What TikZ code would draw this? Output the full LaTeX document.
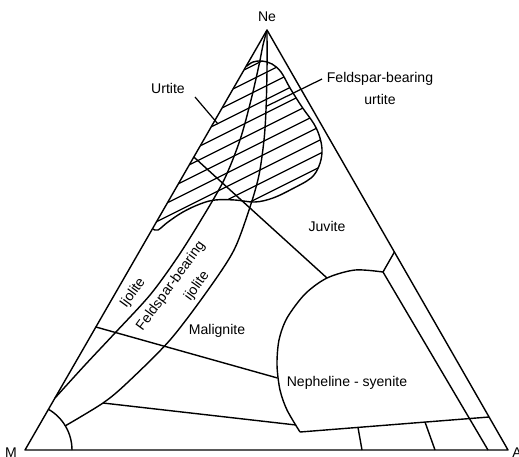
\documentclass[tikz,border=0pt]{standalone}
\usepackage{fontspec}
\setmainfont{Liberation Sans}
\usetikzlibrary{calc}

\begin{document}
\begin{tikzpicture}[x=0.02cm,y=-0.02cm,
  bnd/.style={black,line width=0.8pt,line join=round},
  hatch/.style={black,line width=0.7pt},
  lbl/.style={font=\fontsize{8}{12.5}\selectfont,inner sep=0pt,align=center},
  tip/.style={black,line width=0.7pt}
]
\useasboundingbox (0,0) rectangle (519,456);
\coordinate (M) at (25,450);
\coordinate (Ne) at (267,30);
\coordinate (A) at (508,450);

% feldspar-bearing urtite field
\begin{scope}
\clip plot[smooth,tension=0.6] coordinates {(247,66) (253,62) (262,61) (272,64) (281,72) (290,88) (302,107) (314,124) (320,138) (322,152) (319,166) (311,178) (292,189) (273,198) (255,202) (235,200) (215,200) (200,204) (183,212) (168,222) (158,230) (153,229)} -- cycle;
\foreach \k in {0,...,11}
  \draw[hatch] (140,122+13.5*\k) -- (340,22+13.5*\k);
\end{scope}
\draw[bnd] plot[smooth,tension=0.6] coordinates {(247,66) (253,62) (262,61) (272,64) (281,72) (290,88) (302,107) (314,124) (320,138) (322,152) (319,166) (311,178) (292,189) (273,198) (255,202) (235,200) (215,200) (200,204) (183,212) (168,222) (158,230) (153,229)};

\draw[bnd] (M) -- (Ne) -- (A) -- cycle;

% curves from Ne
\draw[bnd] plot[smooth] coordinates {(Ne) (263,45) (259,65) (251,100) (240,140) (224,180) (201,220) (177,258) (150,295) (115,333) (85,365) (55,398)};
\draw[bnd] plot[smooth] coordinates {(Ne) (267,70) (266,110) (264,140) (259,175) (250,207) (234,250) (208,290) (170,340) (127,383) (103,403) (65,426)};
\draw[bnd] ($(M)+(47,0)$) arc[start angle=0,end angle=-60,radius=47];

% nepheline-syenite field
\coordinate (nsTop) at (327,278);
\coordinate (nsRt) at (383,272);
\coordinate (nsBot) at (300,432);
\draw[bnd] plot[smooth] coordinates {(nsBot) (287,410) (280,390) (277,365) (279,340) (287,318) (305,294) (nsTop) (355,270) (nsRt)};
\draw[bnd] (nsRt) -- (394.4,252);
\draw[bnd] (nsRt) -- (488,450);
\draw[bnd] (nsBot) -- (489,417);
\draw[bnd] (358,427.5) -- (362,450);
\draw[bnd] (425,422) -- (435,450);

% cross lines
\draw[bnd] (193.8,157) -- (nsTop);
\draw[bnd] (95.9,327) -- (277.5,378);
\draw[bnd] (103,403) -- (296,425);

% leaders
\draw[tip] (195,97) -- (218,124);
\draw[tip] (322,79) -- (267,106);

% labels
\node[lbl] (neLab) at (267,17) {Ne};
\node[lbl] (mLab) at (11,453) {M};
\node[lbl] (aLab) at (517,453) {A};
\node[lbl] (urtLab) at (168,88) {Urtite};
\node[lbl] (fbuLab) at (380,88) {Feldspar-bearing\\urtite};
\node[lbl] (juvLab) at (327,226) {Juvite};
\node[lbl,rotate=54] (ijoLab) at (133,293) {Ijolite};
\node[lbl,rotate=54] (fbiLab) at (171,286) {Feldspar-bearing};
\node[lbl,rotate=54] (fbiLabB) at (197,286) {ijolite};
\node[lbl] (malLab) at (217,331) {Malignite};
\node[lbl] (nsLab) at (347,383) {Nepheline - syenite};
\end{tikzpicture}
\end{document}
